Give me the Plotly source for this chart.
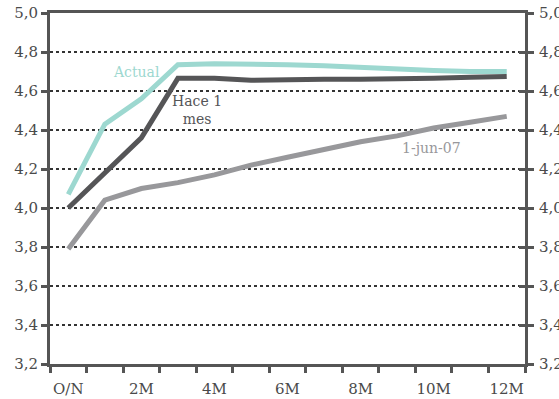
import plotly.graph_objects as go

# Money-market rate curve: tenors and three snapshots
tenors = ["O/N", "1M", "2M", "3M", "4M", "5M", "6M", "7M", "8M", "9M", "10M", "11M", "12M"]
actual = [4.07, 4.43, 4.56, 4.735, 4.74, 4.74, 4.735, 4.73, 4.72, 4.715, 4.705, 4.70, 4.70]
hace_1_mes = [4.00, 4.18, 4.36, 4.665, 4.665, 4.655, 4.66, 4.66, 4.66, 4.66, 4.665, 4.67, 4.675]
jun_07 = [3.79, 4.04, 4.10, 4.13, 4.17, 4.22, 4.26, 4.30, 4.34, 4.37, 4.41, 4.44, 4.47]

y_ticks = [3.2, 3.4, 3.6, 3.8, 4.0, 4.2, 4.4, 4.6, 4.8, 5.0]
y_tick_text = [f"{v:.1f}".replace(".", ",") for v in y_ticks]
x_tick_text = [t if i % 2 == 0 else "" for i, t in enumerate(tenors)]

TEAL = "#9dd8d0"
DARK = "#555557"
LIGHT = "#98989b"
AXIS = "#555555"
TEXT = "#4a4a4a"
FONT = "DejaVu Serif"

fig = go.Figure()
for vals, color in [(jun_07, LIGHT), (hace_1_mes, DARK), (actual, TEAL)]:
    fig.add_trace(go.Scatter(x=tenors, y=vals, mode="lines",
                             line=dict(color=color, width=5), showlegend=False))

# invisible traces carrying the right-hand axes
for ax in ("y2", "y3"):
    fig.add_trace(go.Scatter(x=tenors, y=actual, yaxis=ax, mode="lines",
                             line=dict(width=0), opacity=0, showlegend=False, hoverinfo="skip"))

axis_font = dict(family=FONT, size=15, color=TEXT)
y_common = dict(range=[3.2, 5.0], automargin=False, tickmode="array",
                tickvals=y_ticks, ticktext=y_tick_text, ticklen=6, tickwidth=3,
                tickcolor=AXIS, zeroline=False, tickfont=axis_font)

fig.update_layout(
    width=559, height=399,
    margin=dict(l=50, r=34, t=13, b=35),
    plot_bgcolor="white", paper_bgcolor="white",
    xaxis=dict(
        type="category", range=[-0.5, 12.5], automargin=False, tickangle=0,
        tickmode="array", tickvals=tenors, ticktext=x_tick_text,
        tickson="boundaries", ticks="outside", ticklen=6, tickwidth=3, tickcolor=AXIS,
        showline=True, linewidth=3, linecolor=AXIS, mirror=True,
        showgrid=False, zeroline=False, tickfont=axis_font, ticklabelstandoff=9,
    ),
    yaxis=dict(
        **y_common, ticks="outside",
        showline=True, linewidth=3, linecolor=AXIS,
        showgrid=True, gridcolor="#333333", gridwidth=1.5, griddash="dot",
    ),
    yaxis2=dict(
        **y_common, overlaying="y", side="right", ticks="outside",
        showline=True, linewidth=3, linecolor=AXIS, showgrid=False,
        ticklabelstandoff=2,
    ),
    yaxis3=dict(
        **y_common, overlaying="y", side="right", ticks="inside",
        showticklabels=False, showline=False, showgrid=False,
    ),
)

fig.add_annotation(x="2M", y=4.697, text="Actual", showarrow=False, xshift=-5,
                   font=dict(family=FONT, size=14, color=TEAL))
fig.add_annotation(x="4M", y=4.503, text="Hace 1<br>mes", showarrow=False, xshift=-17,
                   font=dict(family=FONT, size=14, color=DARK))
fig.add_annotation(x="10M", y=4.308, text="1-jun-07", showarrow=False, xshift=-2,
                   font=dict(family=FONT, size=14, color=LIGHT))

fig.write_html("out.html")
